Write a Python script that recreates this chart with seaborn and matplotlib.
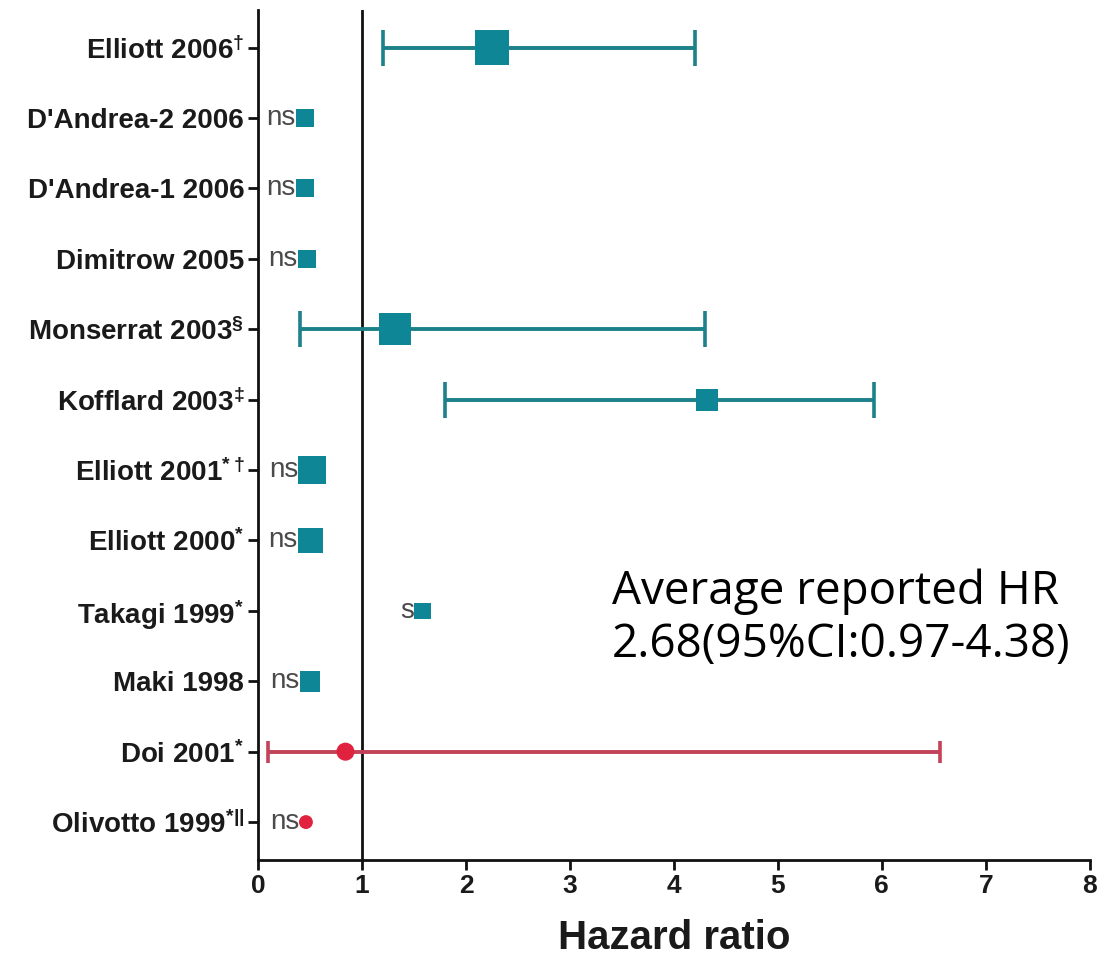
import numpy as np
import pandas as pd
import matplotlib
matplotlib.use("Agg")
import matplotlib.pyplot as plt
import seaborn as sns

# study labels, top to bottom
studies = [r"Elliott 2006$^{\dagger}$", "D'Andrea-2 2006", "D'Andrea-1 2006", "Dimitrow 2005",
           r"Monserrat 2003$^{\S}$", r"Kofflard 2003$^{\ddagger}$", r"Elliott 2001$^{*\dagger}$",
           r"Elliott 2000$^{*}$", r"Takagi 1999$^{*}$", "Maki 1998", r"Doi 2001$^{*}$",
           r"Olivotto 1999$^{*||}$"]
hr = [2.25, 0.45, 0.45, 0.47, 1.32, 4.32, 0.52, 0.50, 1.58, 0.50, 0.84, 0.46]
ci_low = [1.2, np.nan, np.nan, np.nan, 0.4, 1.8, np.nan, np.nan, np.nan, np.nan, 0.1, np.nan]
ci_high = [4.2, np.nan, np.nan, np.nan, 4.3, 5.92, np.nan, np.nan, np.nan, np.nan, 6.56, np.nan]
sig = ["", "ns", "ns", "ns", "", "", "ns", "ns", "s", "ns", "", "ns"]
group = ["sq"] * 10 + ["ci"] * 2
msize = [25, 13, 13, 13, 23, 16, 20, 18, 12, 15, 13, 10]   # marker side in points

teal = "#0f8696"
teal_bar = "#1c8189"
red = "#e0223f"
red_bar = "#c24257"

df = pd.DataFrame({"study": studies, "hr": hr, "lo": ci_low, "hi": ci_high,
                   "sig": sig, "grp": group, "area": [m ** 2 for m in msize]})
df["row"] = np.arange(len(df))

sns.set_theme(style="ticks")
plt.rcParams['font.family'] = ['Liberation Sans', 'DejaVu Sans']
plt.rcParams['mathtext.fontset'] = 'custom'
plt.rcParams['mathtext.rm'] = 'Liberation Sans:bold'
plt.rcParams['mathtext.default'] = 'rm'

fig = plt.figure(figsize=(11.03, 9.61), dpi=100)
ax = fig.add_axes([0.234, 0.105, 0.754, 0.885])

# confidence intervals
for _, r in df.dropna(subset=["lo"]).iterrows():
    c = red_bar if r["grp"] == "ci" else teal_bar
    cap = 16 if r["grp"] == "ci" else 26
    ax.errorbar([r["hr"]], [r["row"]], xerr=[[r["hr"] - r["lo"]], [r["hi"] - r["hr"]]],
                fmt="none", ecolor=c, elinewidth=2.8, capsize=cap / 2, capthick=2.6, zorder=2)

sns.scatterplot(data=df, x="hr", y="row", hue="grp", style="grp", size="area",
                sizes={a: a for a in df["area"].unique()},
                palette={"sq": teal, "ci": red}, markers={"sq": "s", "ci": "o"},
                linewidth=0, legend=False, ax=ax, zorder=3)

# ns / s labels
for _, r in df[df["sig"] != ""].iterrows():
    ax.annotate(r["sig"], xy=(r["hr"], r["row"]), xytext=(-np.sqrt(r["area"]) / 2, 0),
                textcoords="offset points", ha="right", va="center",
                fontsize=20, color="#4a4a4a")

ax.axvline(1, color="#111111", lw=2.0, zorder=1)

ax.set_xlim(0, 8)
ax.set_ylim(11.54, -0.54)
ax.set_xticks(range(0, 9))
ax.set_yticks(df["row"])
ax.set_yticklabels(df["study"], fontsize=20, fontweight="bold", color="#1a1a1a")
for t in ax.get_xticklabels():
    t.set_fontsize(19)
    t.set_fontweight("bold")
    t.set_color("#1a1a1a")
ax.set_xlabel("Hazard ratio", fontsize=29, fontweight="bold", color="#1a1a1a", labelpad=15)
ax.set_ylabel("")
sns.despine(ax=ax)
for s in ["left", "bottom"]:
    ax.spines[s].set_linewidth(2.0)
    ax.spines[s].set_color("#111111")
ax.tick_params(axis="both", length=7, width=2.0, color="#111111", pad=3)

ax.text(0.4255, 0.284, "Average reported HR\n2.68(95%CI:0.97-4.38)", transform=ax.transAxes,
        fontsize=33, family=["Open Sans", "DejaVu Sans"], color="black", linespacing=1.2,
        ha="left", va="center")

fig.savefig("out.png", dpi=100)
